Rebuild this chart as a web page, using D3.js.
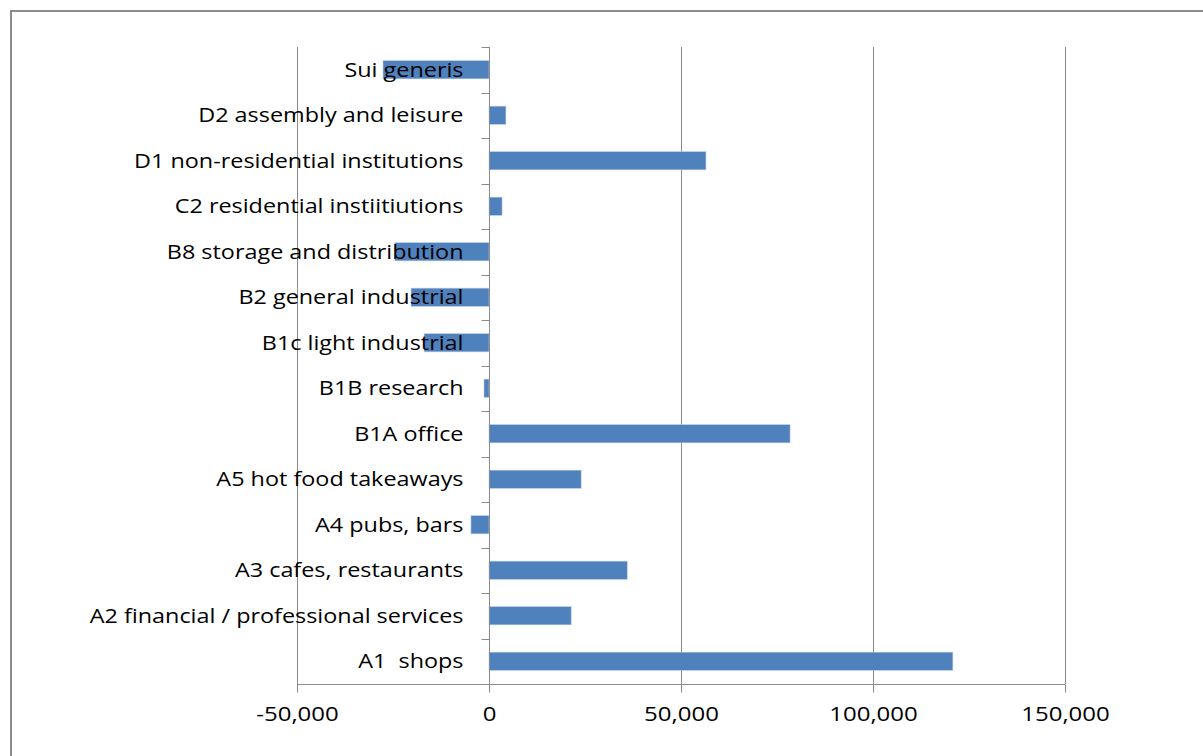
<!DOCTYPE html>
<html>
<head>
<meta charset="utf-8">
<script src="https://cdn.jsdelivr.net/npm/d3@7"></script>
<style>
  html, body { margin: 0; padding: 0; background: #fff; }
  svg text { font-family: "Open Sans", sans-serif; fill: #000; }
</style>
</head>
<body>
<svg id="chart" width="1203" height="756"></svg>
<script>
// Net change in floorspace by use class (sq m)
const categories = [
  "A1  shops",
  "A2 financial / professional services",
  "A3 cafes, restaurants",
  "A4 pubs, bars",
  "A5 hot food takeaways",
  "B1A office",
  "B1B research",
  "B1c light industrial",
  "B2 general industrial",
  "B8 storage and distribution",
  "C2 residential instiitiutions",
  "D1 non-residential institutions",
  "D2 assembly and leisure",
  "Sui generis"
];
const values = [120800, 21400, 36000, -4700, 24000, 78400, -1300, -16900, -20300, -24500, 3400, 56500, 4400, -27600];
const xTicks = [-50000, 0, 50000, 100000, 150000];

const svg = d3.select("#chart");
const plot = { left: 297, right: 1065, top: 47, bottom: 684 };
const stretch = 1.17; // wide type, stretched horizontally

// outer chart frame
svg.append("rect")
  .attr("x", 11).attr("y", 11)
  .attr("width", 1210).attr("height", 780)
  .attr("fill", "none").attr("stroke", "#8c8c8c").attr("stroke-width", 2);

const x = d3.scaleLinear().domain([-50000, 150000]).range([plot.left, plot.right]);
// first category sits at the bottom
const y = d3.scaleBand().domain(categories.slice().reverse()).range([plot.top, plot.bottom])
  .paddingInner(0.6).paddingOuter(0.3);

// vertical gridlines
svg.append("g").selectAll("line").data(xTicks).join("line")
  .attr("x1", d => Math.round(x(d)) + 0.5).attr("x2", d => Math.round(x(d)) + 0.5)
  .attr("y1", plot.top).attr("y2", plot.bottom)
  .attr("stroke", "#8a8a8a").attr("stroke-width", 1);

// bars
svg.append("g").selectAll("rect").data(categories).join("rect")
  .attr("x", (d, i) => x(Math.min(0, values[i])))
  .attr("width", (d, i) => Math.abs(x(values[i]) - x(0)))
  .attr("y", d => y(d))
  .attr("height", y.bandwidth())
  .attr("fill", "#4f81bd")
  .attr("stroke", "#b9cde5").attr("stroke-width", 0.6);

// bottom value axis
const fmt = d3.format(",");
const xAxis = d3.axisBottom(x).tickValues(xTicks).tickSize(8).tickPadding(14)
  .tickFormat(d => fmt(d).replace("\u2212", "-"));
const gx = svg.append("g").attr("transform", `translate(0,${plot.bottom + 0.5})`).call(xAxis);
gx.select(".domain").attr("stroke", "#8a8a8a").attr("d", `M${plot.left},0H${plot.right}`);
gx.selectAll(".tick line").attr("stroke", "#8a8a8a");
gx.selectAll(".tick text")
  .attr("font-size", 20).attr("font-family", "'Open Sans', sans-serif").attr("fill", "#000")
  .attr("transform", `scale(1.2,1)`);

// category axis on the zero line, ticks at band boundaries
const zx = Math.round(x(0)) + 0.5;
const step = (plot.bottom - plot.top) / categories.length;
const bounds = d3.range(categories.length + 1).map(i => plot.top + i * step);
svg.append("line").attr("x1", zx).attr("x2", zx).attr("y1", plot.top).attr("y2", plot.bottom + 8)
  .attr("stroke", "#8a8a8a");
svg.append("g").selectAll("line").data(bounds).join("line")
  .attr("x1", zx - 8).attr("x2", zx)
  .attr("y1", d => Math.round(d) + 0.5).attr("y2", d => Math.round(d) + 0.5)
  .attr("stroke", "#8a8a8a");

// category labels, drawn over the bars
svg.append("g").selectAll("text").data(categories).join("text")
  .attr("transform", d => `translate(${zx - 26},${y(d) + y.bandwidth() / 2}) scale(${stretch},1)`)
  .attr("dy", "0.35em")
  .attr("text-anchor", "end")
  .attr("font-size", 20)
  .style("white-space", "pre")
  .text(d => d);
</script>
</body>
</html>
